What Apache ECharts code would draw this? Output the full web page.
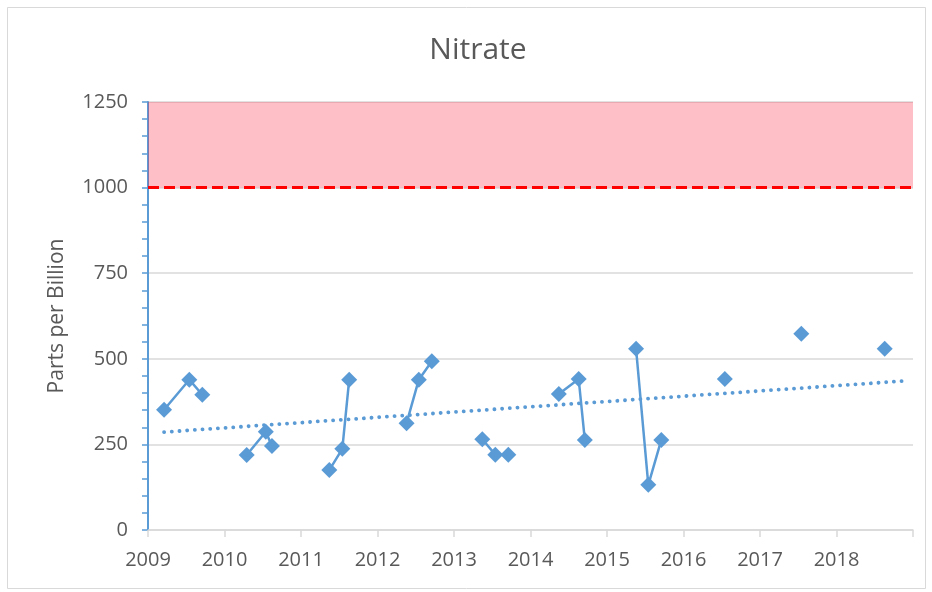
<!DOCTYPE html>
<html lang="en">
<head>
    <meta charset="utf-8">
    <title>Nitrate</title>
    <script src="https://cdn.jsdelivr.net/npm/echarts@6/dist/echarts.min.js"></script>
    <style>
        html, body { margin: 0; padding: 0; background: #fff; }
        #main { width: 932px; height: 592px; }
    </style>
</head>
<body>
    <div id="main"></div>
    <script type="text/javascript">
        // sample dates (decimal years) and nitrate results (ppb)
        var sampleDates = [2009.21, 2009.54, 2009.71, 2010.29, 2010.54, 2010.62, 2011.37, 2011.54, 2011.63,
            2012.38, 2012.54, 2012.71, 2013.37, 2013.54, 2013.71, 2014.37, 2014.63, 2014.71,
            2015.38, 2015.54, 2015.71, 2016.54, 2017.54, 2018.63];
        var nitrate = [351, 439, 395, 219, 287, 245, 175, 237, 439,
            312, 439, 493, 265, 220, 220, 397, 441, 263,
            529, 132, 263, 441, 573, 529];

        // trend line end points
        var trendDates = [2009.21, 2018.87];
        var trendValues = [286, 435];

        // limit band
        var limitValue = 1000;
        var bandTop = 1250;

        var yearTicks = ['2009', '2010', '2011', '2012', '2013', '2014', '2015', '2016', '2017', '2018'];

        var blue = '#5b9bd5';
        var textColor = '#595959';
        var fontName = 'Open Sans';

        // one line per sampling year
        var groups = {};
        sampleDates.forEach(function (d, i) {
            var y = Math.floor(d);
            if (!groups[y]) groups[y] = [];
            groups[y].push([d, nitrate[i]]);
        });

        var series = [];
        Object.keys(groups).forEach(function (y) {
            series.push({
                type: 'line',
                data: groups[y],
                symbol: 'diamond',
                symbolSize: 16,
                itemStyle: { color: blue },
                lineStyle: { color: blue, width: 2.5 },
                z: 5
            });
        });

        // trend
        series.push({
            type: 'line',
            data: trendDates.map(function (d, i) { return [d, trendValues[i]]; }),
            showSymbol: false,
            symbol: 'none',
            lineStyle: { color: blue, width: 3.8, type: [0.1, 7.6], cap: 'round' },
            z: 4
        });

        // limit band + dashed limit line
        series.push({
            type: 'line',
            data: [],
            markArea: {
                silent: true,
                itemStyle: { color: 'rgba(255, 0, 30, 0.25)' },
                data: [[{ yAxis: limitValue }, { yAxis: bandTop }]]
            },
            markLine: {
                silent: true,
                symbol: 'none',
                label: { show: false },
                lineStyle: { color: '#ff0000', width: 3, type: [11, 5] },
                data: [{ yAxis: limitValue }]
            },
            z: 3
        });

        var myChart = echarts.init(document.getElementById('main'));

        myChart.setOption({
            animation: false,
            backgroundColor: '#fff',
            title: {
                text: 'Nitrate',
                left: 473,
                textAlign: 'center',
                top: 30,
                textStyle: { color: textColor, fontFamily: fontName, fontSize: 30, fontWeight: 'normal' }
            },
            graphic: [{
                type: 'rect',
                shape: { x: 7.5, y: 7.5, width: 918, height: 581 },
                style: { fill: 'none', stroke: '#d9d9d9', lineWidth: 1 },
                silent: true
            }],
            grid: { left: 148, right: 19, top: 102, bottom: 62 },
            xAxis: {
                type: 'value',
                min: 2009,
                max: 2019,
                interval: 1,
                axisLine: { lineStyle: { color: '#d9d9d9', width: 1.5 } },
                axisTick: { show: true, length: 7, lineStyle: { color: '#d9d9d9', width: 1.5 } },
                splitLine: { show: false },
                axisLabel: {
                    color: textColor,
                    fontFamily: fontName,
                    fontSize: 20,
                    margin: 20,
                    formatter: function (v) {
                        var i = Math.round(v) - 2009;
                        return yearTicks[i] || '';
                    }
                }
            },
            yAxis: {
                type: 'value',
                min: 0,
                max: 1250,
                interval: 250,
                name: 'Parts per Billion',
                nameLocation: 'middle',
                nameGap: 80,
                nameTextStyle: { color: textColor, fontFamily: fontName, fontSize: 21 },
                axisLine: { show: true, lineStyle: { color: blue, width: 2 } },
                axisTick: { show: true, length: 6, lineStyle: { color: blue, width: 1.5 } },
                minorTick: { show: true, splitNumber: 5, length: 6, lineStyle: { color: blue, width: 1.5 } },
                splitLine: { show: true, lineStyle: { color: '#d9d9d9', width: 1.5 } },
                axisLabel: {
                    color: textColor, fontFamily: fontName, fontSize: 20, margin: 20,
                    formatter: function (v) { return String(v); }
                }
            },
            series: series
        });
    </script>
</body>
</html>
